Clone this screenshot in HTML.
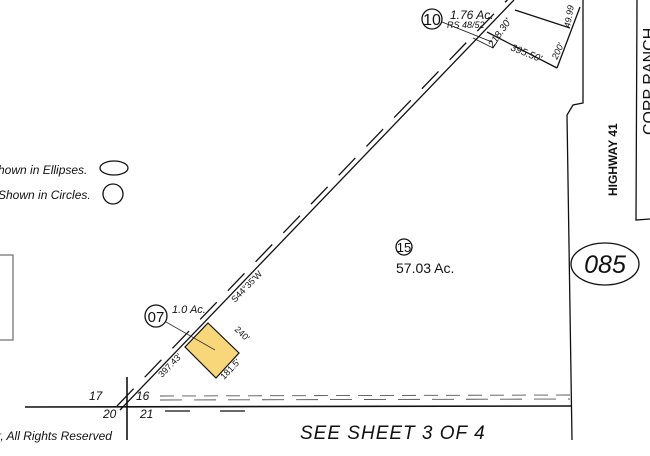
<!DOCTYPE html>
<html><head><meta charset="utf-8"><style>
html,body{margin:0;padding:0;background:#fff;}
svg{display:block;}
text{font-family:"Liberation Sans",sans-serif;fill:#111;}
</style></head><body>
<svg width="650" height="456" viewBox="0 0 650 456" xmlns="http://www.w3.org/2000/svg">
<g stroke="#111" fill="none" stroke-width="1.3">
<!-- main diagonal -->
<line x1="120" y1="410" x2="514" y2="0"/>
<line x1="117" y1="406" x2="512" y2="-5" stroke-dasharray="24,16"/>
<!-- horizontal -->
<line x1="25" y1="407" x2="572" y2="406" stroke-width="1.6"/>
<line x1="160" y1="396" x2="570" y2="395" stroke-dasharray="14,8" stroke-width="0.9" stroke="#555"/>
<line x1="160" y1="400" x2="570" y2="399" stroke-dasharray="22,12" stroke-width="0.9" stroke="#555"/>
<line x1="165" y1="411" x2="270" y2="411" stroke-dasharray="25,30"/>
<!-- cross -->
<line x1="127" y1="377" x2="127" y2="440" stroke-width="1.6"/>
<!-- road -->
<polyline points="583,0 583,103 573,105 567,115 572,440" />
<polyline points="637,0 636,220 650,219"/>
<!-- parcel 10 -->
<line x1="515" y1="10" x2="570" y2="28"/>
<line x1="487" y1="32" x2="557" y2="68"/>
<line x1="580" y1="7" x2="557" y2="68"/>
<line x1="442" y1="22" x2="492" y2="42" stroke-width="0.8"/>
<polyline points="473,38 493,48 497,42" stroke-width="0.8"/>
<!-- legend -->
<ellipse cx="114" cy="168" rx="14" ry="7"/>
<circle cx="113" cy="194" r="10"/>
<rect x="-5" y="255" width="18" height="85" stroke="#777"/>
<!-- 085 -->
<ellipse cx="605" cy="264" rx="34" ry="21"/>
<!-- circles -->
<circle cx="432" cy="19" r="10"/>
<circle cx="156" cy="316" r="11"/>
<circle cx="404" cy="247" r="8"/>
</g>
<polygon points="208,323 239,353 216,378 185,347" fill="#f7d77a" stroke="#111" stroke-width="1.2"/>
<line x1="166" y1="322" x2="215" y2="350" stroke="#333" stroke-width="0.8"/>
<text x="432" y="25" font-size="16" text-anchor="middle">10</text>
<text x="450" y="19" font-size="12" font-style="italic">1.76 Ac.</text>
<text x="447" y="28" font-size="9" font-style="italic">RS 48/52</text>
<text x="0" y="0" font-size="10" font-style="italic" transform="translate(493,48) rotate(-55)">218.30'</text>
<text x="0" y="0" font-size="10" font-style="italic" transform="translate(510,50) rotate(22)">395.50'</text>
<text x="0" y="0" font-size="9" font-style="italic" transform="translate(557,60) rotate(-65)">200'</text>
<text x="0" y="0" font-size="9" font-style="italic" transform="translate(570,28) rotate(-80)">49.99</text>
<text x="0" y="0" font-size="12" font-weight="bold" transform="translate(617,196) rotate(-90)">HIGHWAY 41</text>
<text x="0" y="0" font-size="16" transform="translate(654,135) rotate(-90)">CORP RANCH</text>
<text x="605" y="273" font-size="25" font-style="italic" text-anchor="middle">085</text>
<text x="404" y="252" font-size="13" text-anchor="middle">15</text>
<text x="396" y="273" font-size="14">57.03  Ac.</text>
<text x="156" y="322" font-size="15" text-anchor="middle">07</text>
<text x="172" y="313" font-size="11" font-style="italic">1.0 Ac.</text>
<text x="0" y="0" font-size="9" transform="translate(235,303) rotate(-46)">S44°35'W</text>
<text x="0" y="0" font-size="9" transform="translate(234,330) rotate(44)">240'</text>
<text x="0" y="0" font-size="9" transform="translate(224,380) rotate(-46)">181.5'</text>
<text x="0" y="0" font-size="9" transform="translate(162,378) rotate(-46)">397.43'</text>
<text x="89" y="400" font-size="12" font-style="italic">17</text>
<text x="136" y="400" font-size="12" font-style="italic">16</text>
<text x="103" y="418" font-size="12" font-style="italic">20</text>
<text x="140" y="418" font-size="12" font-style="italic">21</text>
<text x="-3" y="440" font-size="12" font-style="italic">r, All Rights Reserved</text>
<text x="-2" y="174" font-size="12" font-style="italic">hown  in  Ellipses.</text>
<text x="-2" y="199" font-size="12" font-style="italic">Shown  in  Circles.</text>
<text x="300" y="439" font-size="19" font-style="italic" letter-spacing="1">SEE SHEET 3 OF 4</text>
</svg>
</body></html>
